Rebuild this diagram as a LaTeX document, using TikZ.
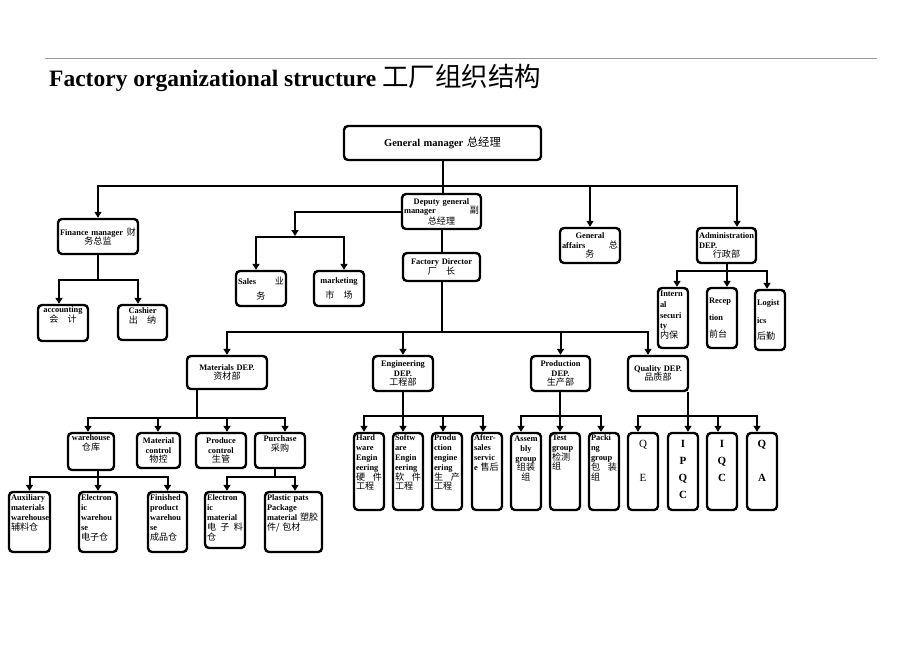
\documentclass[tikz,border=0pt]{standalone}
\usepackage{fontspec}
\setmainfont{Liberation Serif}
\newfontfamily\cjkfont[Scale=1.08]{Noto Sans CJK SC}
\usetikzlibrary{arrows.meta}
\newcommand\zh[1]{{\cjkfont\mdseries #1}}
\newcommand\labfont{\fontsize{8.4}{9.8}\selectfont\bfseries\hyphenpenalty=10000 \exhyphenpenalty=10000 }
\newcommand\qfont{\fontsize{11}{17}\selectfont\bfseries}
\tikzset{
  orgbox/.style={draw, line width=2.4pt, rounded corners=4pt, inner xsep=2pt, inner ysep=1pt, font=\labfont, align=center},
  txt/.style={inner sep=0pt, font=\labfont, align=center},
  ln/.style={line width=2pt},
  arr/.style={ln, -{Triangle[width=7pt,length=6pt]}}
}
% centred text inside the box
\newcommand\bc[7][]{%
  \pgfmathsetmacro\bw{#5-#3}\pgfmathsetmacro\bh{#6-#4}\pgfmathsetmacro\tw{#5-#3-4}%
  \node[orgbox, text width=\tw pt, minimum width=\bw pt, minimum height=\bh pt, #1] (#2) at ({(#3+#5)/2},{(#4+#6)/2}) {#7};}
% text hanging from the top of the box
\newcommand\bt[8][]{%
  \pgfmathsetmacro\bw{#5-#3}\pgfmathsetmacro\bh{#6-#4}\pgfmathsetmacro\tw{#5-#3-4}%
  \node[orgbox, minimum width=\bw pt, minimum height=\bh pt] (#2) at ({(#3+#5)/2},{(#4+#6)/2}) {};
  \node[txt, anchor=north, text width=\tw pt, #1] (#2t) at ([yshift=-#7pt]#2.north) {#8};}
\begin{document}
\begin{tikzpicture}[x=1pt, y=-1pt]
\path[use as bounding box, fill=white] (0,0) rectangle (920,651);
\draw[gray!80, line width=0.8pt] (45,58) -- (877,58);
\node[anchor=base west, inner sep=0pt, font=\fontsize{23.5}{26}\selectfont\bfseries] (title) at (49,86) {Factory organizational structure {\fontsize{24.5}{26}\selectfont\zh{工厂组织结构}}};

% level 1-2
\bc[font=\fontsize{10.5}{12}\selectfont\bfseries]{gm}{344}{126}{541}{160}{General manager \zh{总经理}}
\bc[font=\fontsize{8.4}{9.4}\selectfont\bfseries]{dep}{402}{194}{481}{229}{Deputy general\\ manager\hfill\zh{副}\\ \zh{总经理}}
\bc{fin}{58}{219}{138}{254}{Finance manager\hfill\zh{财}\\ \zh{务总监}}
\bc{ga}{560}{228}{620}{263}{General\\ affairs\hfill\zh{总}\\ \zh{务}}
\bc{adm}{697}{228}{756}{263}{Administration\\ DEP.\hfill\mbox{}\\ \zh{行政部}}
\bc{sales}{236}{271}{286}{306}{Sales\hfill\zh{业}\\[6pt] \zh{务}}
\bc{mkt}{314}{271}{364}{306}{marketing\\[6pt] \zh{市\quad 场}}
\bc{fd}{403}{253}{480}{281}{Factory Director\\ \zh{厂\quad 长}}
\bt{acc}{38}{305}{88}{341}{3}{accounting\\ \zh{会\quad 计}}
\bt{cash}{118}{305}{167}{340}{4}{Cashier\\ \zh{出\quad 纳}}
\bt[align=left]{isec}{658}{288}{688}{348}{4}{Intern\\[1pt] al\\[1pt] securi\\[0.5pt] ty\\ \zh{内保}}
\bc[align=left]{recp}{707}{288}{737}{348}{Recep\\[8pt] tion\\[7pt] \zh{前台}}
\bc[align=left]{logi}{755}{290}{785}{350}{Logist\\[8pt] ics\\[7pt] \zh{后勤}}

% departments
\bc{mat}{187}{356}{267}{389}{Materials DEP.\\ \zh{资材部}}
\bc{eng}{373}{356}{433}{391}{Engineering\\ DEP.\\ \zh{工程部}}
\bc{prod}{531}{356}{590}{391}{Production\\ DEP.\\ \zh{生产部}}
\bc{qual}{628}{356}{688}{391}{Quality DEP.\\ \zh{品质部}}

% materials sections
\bt{wh}{68}{433}{114}{470}{3}{warehouse\\ \zh{仓库}}
\bc{mc}{137}{433}{180}{468}{Material\\ control\\ \zh{物控}}
\bc{pc}{196}{433}{246}{468}{Produce\\ control\\ \zh{生管}}
\bt{pur}{255}{433}{305}{468}{4}{Purchase\\ \zh{采购}}

\bt[align=left]{aux}{9}{492}{50}{552}{4}{Auxiliary\\ materials\\ warehouse\\ \zh{辅料仓}}
\bt[align=left]{ewh}{79}{492}{117}{552}{4}{Electron\\ ic\\ warehou\\ se\\ \zh{电子仓}}
\bt[align=left]{fpw}{148}{492}{187}{552}{4}{Finished\\ product\\ warehou\\ se\\ \zh{成品仓}}
\bt[align=left]{em}{205}{492}{245}{548}{4}{Electron\\ ic\\ material\\ \zh{电\hfill 子\hfill 料}\\ \zh{仓}}
\bt[align=left]{pl}{265}{492}{322}{552}{4}{Plastic pats\\ Package\\ material \zh{塑胶}\\ \zh{件/ 包材}}

% engineering sections
\bt[align=left]{hw}{354}{433}{384}{510}{3}{Hard\\ ware\\ Engin\\ eering\\ \zh{硬\hfill 件}\\ \zh{工程}}
\bt[align=left]{sw}{393}{433}{423}{510}{3}{Softw\\ are\\ Engin\\ eering\\ \zh{软\hfill 件}\\ \zh{工程}}
\bt[align=left]{pe}{432}{433}{462}{510}{3}{Produ\\ ction\\ engine\\ ering\\ \zh{生\hfill 产}\\ \zh{工程}}
\bt[align=left]{aft}{472}{433}{502}{510}{3}{After-\\ sales\\ servic\\ e \zh{售后}}

% production sections
\bt{asm}{511}{433}{541}{510}{4}{Assem\\ bly\\ group\\ \zh{组装}\\ \zh{组}}
\bt[align=left]{tst}{550}{433}{580}{510}{3}{Test\\ group\\ \zh{检测}\\ \zh{组}}
\bt[align=left]{pck}{589}{433}{619}{510}{3}{Packi\\ ng\\ group\\ \zh{包\hfill 装}\\ \zh{组}}

% quality sections
\bt[font=\qfont\mdseries]{qe}{628}{433}{658}{510}{8}{Q\\[17pt] E}
\bt[font=\qfont]{ipqc}{668}{433}{698}{510}{8}{I\\ P\\ Q\\ C}
\bt[font=\qfont]{iqc}{707}{433}{737}{510}{8}{I\\ Q\\ C}
\bt[font=\qfont]{qa}{747}{433}{777}{510}{8}{Q\\[17pt] A}

% connectors: top
\coordinate (j0) at (gm.south |- 0,186);
\draw[ln] (gm.south) -- (gm.south |- dep.north);
\draw[arr] (j0) -| (fin.north);
\draw[arr] (j0) -| (ga.north);
\draw[arr] (j0) -| (737,0 |- adm.north);

% deputy -> sales / marketing
\coordinate (sj) at (295,237);
\draw[arr] (dep.west) -| ([yshift=1pt]sj);
\draw[arr] (sj) -| (256,0 |- sales.north);
\draw[arr] (sj) -| (344,0 |- mkt.north);

% deputy -> factory director -> departments
\draw[ln] (dep.south) -- (fd.north);
\coordinate (fj) at (fd.south |- 0,332);
\draw[ln] (fd.south) -- (fj);
\draw[arr] (fj) -| (mat.north);
\draw[arr] (fj) -| (eng.north);
\draw[arr] (fj) -| (prod.north);
\draw[arr] (fj) -| (648,0 |- qual.north);

% administration
\coordinate (aj) at (727,271);
\draw[ln] (727,0 |- adm.south) -- (aj);
\draw[arr] (aj) -| (677,0 |- isec.north);
\draw[arr] (aj) -| (727,0 |- recp.north);
\draw[arr] (aj) -| (767,0 |- logi.north);

% finance
\coordinate (fnj) at (fin.south |- 0,280);
\draw[ln] (fin.south) -- (fnj);
\draw[arr] (fnj) -| (59,0 |- acc.north);
\draw[arr] (fnj) -| (138,0 |- cash.north);

% materials
\coordinate (mj) at (197,418);
\draw[ln] (197,0 |- mat.south) -- (mj);
\draw[arr] (mj) -| (88,0 |- wh.north);
\draw[arr] (mj) -| (158,0 |- mc.north);
\draw[arr] (mj) -| (227,0 |- pc.north);
\draw[arr] (mj) -| (285,0 |- pur.north);

% warehouse
\coordinate (wj) at (98,477);
\draw[ln] (98,0 |- wh.south) -- (wj);
\draw[arr] (wj) -| (aux.north);
\draw[arr] (wj) -| (ewh.north);
\draw[arr] (wj) -| (fpw.north);

% purchase
\coordinate (pj) at (275,477);
\draw[ln] (275,0 |- pur.south) -- (pj);
\draw[arr] (pj) -| (227,0 |- em.north);
\draw[arr] (pj) -| (295,0 |- pl.north);

% engineering
\coordinate (ej) at (403,416);
\draw[ln] (403,0 |- eng.south) -- (ej);
\draw[arr] (ej) -| (364,0 |- hw.north);
\draw[arr] (ej) -| (403,0 |- sw.north);
\draw[arr] (ej) -| (443,0 |- pe.north);
\draw[arr] (ej) -| (483,0 |- aft.north);

% production
\coordinate (pdj) at (560,416);
\draw[ln] (560,0 |- prod.south) -- (pdj);
\draw[arr] (pdj) -| (521,0 |- asm.north);
\draw[arr] (pdj) -| (560,0 |- tst.north);
\draw[arr] (pdj) -| (601,0 |- pck.north);

% quality
\coordinate (qj) at (688,416);
\draw[ln] (688,0 |- qual.south) -- (qj);
\draw[arr] (qj) -| (638,0 |- qe.north);
\draw[arr] (qj) -| (688,0 |- ipqc.north);
\draw[arr] (qj) -| (718,0 |- iqc.north);
\draw[arr] (qj) -| (757,0 |- qa.north);
\end{tikzpicture}
\end{document}
